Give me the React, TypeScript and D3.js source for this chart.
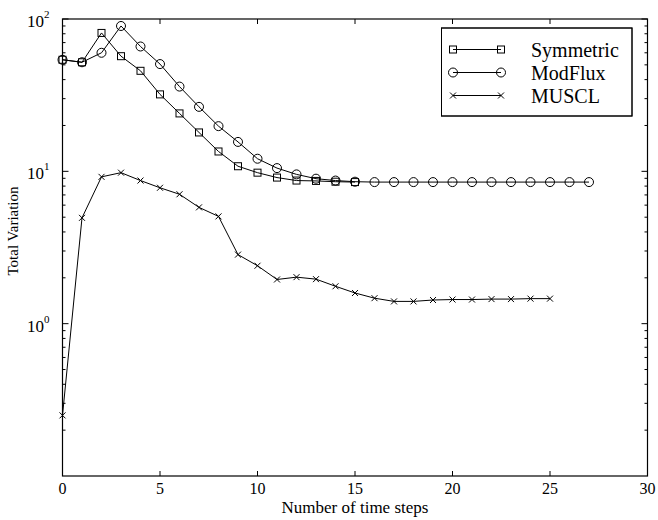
import React from "react";
import * as d3 from "d3";

const symSteps = [0, 1, 2, 3, 4, 5, 6, 7, 8, 9, 10, 11, 12, 13, 14, 15];
const symValues = [54, 52, 81, 57, 45.7, 32, 24, 18, 13.5, 10.8, 9.8, 9.1, 8.7, 8.65, 8.55, 8.5];

const modSteps = [0, 1, 2, 3, 4, 5, 6, 7, 8, 9, 10, 11, 12, 13, 14, 15, 16, 17, 18, 19, 20, 21, 22, 23, 24, 25, 26, 27];
const modValues = [54, 52, 60, 90, 66, 50.6, 36, 26.5, 19.8, 15.6, 12.1, 10.5, 9.55, 8.95, 8.7, 8.55, 8.5, 8.5, 8.5, 8.5, 8.5, 8.5, 8.5, 8.5, 8.5, 8.5, 8.5, 8.5];

const muscSteps = [0, 1, 2, 3, 4, 5, 6, 7, 8, 9, 10, 11, 12, 13, 14, 15, 16, 17, 18, 19, 20, 21, 22, 23, 24, 25];
const muscValues = [0.25, 4.95, 9.2, 9.8, 8.7, 7.8, 7.07, 5.8, 5.06, 2.84, 2.4, 1.95, 2.02, 1.96, 1.76, 1.59, 1.47, 1.4, 1.4, 1.43, 1.44, 1.44, 1.45, 1.45, 1.46, 1.46];

const seriesNames = ["Symmetric", "ModFlux", "MUSCL"];
const xTicks = [0, 5, 10, 15, 20, 25, 30];
const yDecades = [2, 1, 0];
const xLabel = "Number of time steps";
const yLabel = "Total Variation";

const FONT = "'Liberation Serif', 'Times New Roman', serif";

function Marker({ kind, x, y }: { kind: string; x: number; y: number }) {
  if (kind === "square")
    return <rect x={x - 3.5} y={y - 3.5} width={7} height={7} fill="none" stroke="#000" strokeWidth={1} />;
  if (kind === "circle") return <circle cx={x} cy={y} r={4.5} fill="none" stroke="#000" strokeWidth={1} />;
  return (
    <g stroke="#000" strokeWidth={1}>
      <line x1={x - 3} y1={y - 3} x2={x + 3} y2={y + 3} />
      <line x1={x - 3} y1={y + 3} x2={x + 3} y2={y - 3} />
    </g>
  );
}

export default function App() {
  const W = 658, H = 520;
  const left = 62.5, right = 647.5, top = 19, bottom = 476;
  const x = d3.scaleLinear().domain([0, 30]).range([left, right]);
  const y = d3.scaleLog().domain([0.1, 100]).range([bottom, top]);

  const series = [
    { name: seriesNames[0], steps: symSteps, values: symValues, kind: "square" },
    { name: seriesNames[1], steps: modSteps, values: modValues, kind: "circle" },
    { name: seriesNames[2], steps: muscSteps, values: muscValues, kind: "x" },
  ];

  const line = d3
    .line<[number, number]>()
    .x((d) => x(d[0]))
    .y((d) => y(d[1]));

  const minorTicks: number[] = [];
  [0.1, 1, 10].forEach((base) => {
    for (let k = 2; k <= 9; k++) minorTicks.push(base * k);
  });

  const lgX0 = 441.5, lgY0 = 28, lgX1 = 632, lgY1 = 116;
  const rowY = [49.5, 72.5, 95.5];

  return (
    <svg width={W} height={H} style={{ position: "absolute", left: 0, top: 0 }} fontFamily={FONT}>
      <rect width={W} height={H} fill="#fff" />
      <defs>
        <clipPath id="lgclip">
          <rect x={lgX0} y={lgY0} width={lgX1 - lgX0} height={lgY1 - lgY0} />
        </clipPath>
      </defs>
      {/* frame */}
      <rect x={left} y={top} width={right - left} height={bottom - top} fill="none" stroke="#000" strokeWidth={1.2} />
      {/* x ticks */}
      {xTicks.map((t) => (
        <g key={"xt" + t}>
          <line x1={x(t)} x2={x(t)} y1={bottom} y2={bottom - 5} stroke="#000" />
          <line x1={x(t)} x2={x(t)} y1={top} y2={top + 5} stroke="#000" />
          <text x={x(t)} y={bottom + 18} fontSize={16} textAnchor="middle">
            {t}
          </text>
        </g>
      ))}
      {/* y ticks */}
      {yDecades.map((e) => (
        <g key={"yd" + e}>
          <line x1={left} x2={left + 6} y1={y(Math.pow(10, e))} y2={y(Math.pow(10, e))} stroke="#000" />
          <line x1={right} x2={right - 6} y1={y(Math.pow(10, e))} y2={y(Math.pow(10, e))} stroke="#000" />
          <text x={left - 13} y={y(Math.pow(10, e)) + 8} fontSize={17} textAnchor="end">
            10
            <tspan fontSize={11} dy={-9}>
              {e}
            </tspan>
          </text>
        </g>
      ))}
      {minorTicks.map((v, i) => (
        <g key={"mt" + i}>
          <line x1={left} x2={left + 3} y1={y(v)} y2={y(v)} stroke="#000" />
          <line x1={right} x2={right - 3} y1={y(v)} y2={y(v)} stroke="#000" />
        </g>
      ))}
      {/* axis labels */}
      <text x={x(15)} y={513} fontSize={17} textAnchor="middle">
        {xLabel}
      </text>
      <text transform={`translate(18,231) rotate(-90)`} fontSize={15} textAnchor="middle">
        {yLabel}
      </text>
      {/* series */}
      {series.map((s) => {
        const pts = s.steps.map((st, i) => [st, s.values[i]] as [number, number]);
        return (
          <g key={s.name}>
            <path d={line(pts) || ""} fill="none" stroke="#000" strokeWidth={1} />
            {pts.map((p, i) => (
              <Marker key={i} kind={s.kind} x={x(p[0])} y={y(p[1])} />
            ))}
          </g>
        );
      })}
      {/* legend */}
      <rect x={lgX0} y={lgY0} width={lgX1 - lgX0} height={lgY1 - lgY0} fill="#fff" stroke="#000" strokeWidth={1} />
      {series.map((s, i) => (
        <g key={"lg" + s.name}>
          <line x1={453} x2={501} y1={rowY[i]} y2={rowY[i]} stroke="#000" strokeWidth={1} />
          <Marker kind={s.kind} x={453} y={rowY[i]} />
          <Marker kind={s.kind} x={501} y={rowY[i]} />
          <text x={531} y={rowY[i] + 7} fontSize={20} clipPath="url(#lgclip)">
            {s.name}
          </text>
        </g>
      ))}
      <rect x={lgX0} y={lgY0} width={lgX1 - lgX0} height={lgY1 - lgY0} fill="none" stroke="#000" strokeWidth={1} />
    </svg>
  );
}
